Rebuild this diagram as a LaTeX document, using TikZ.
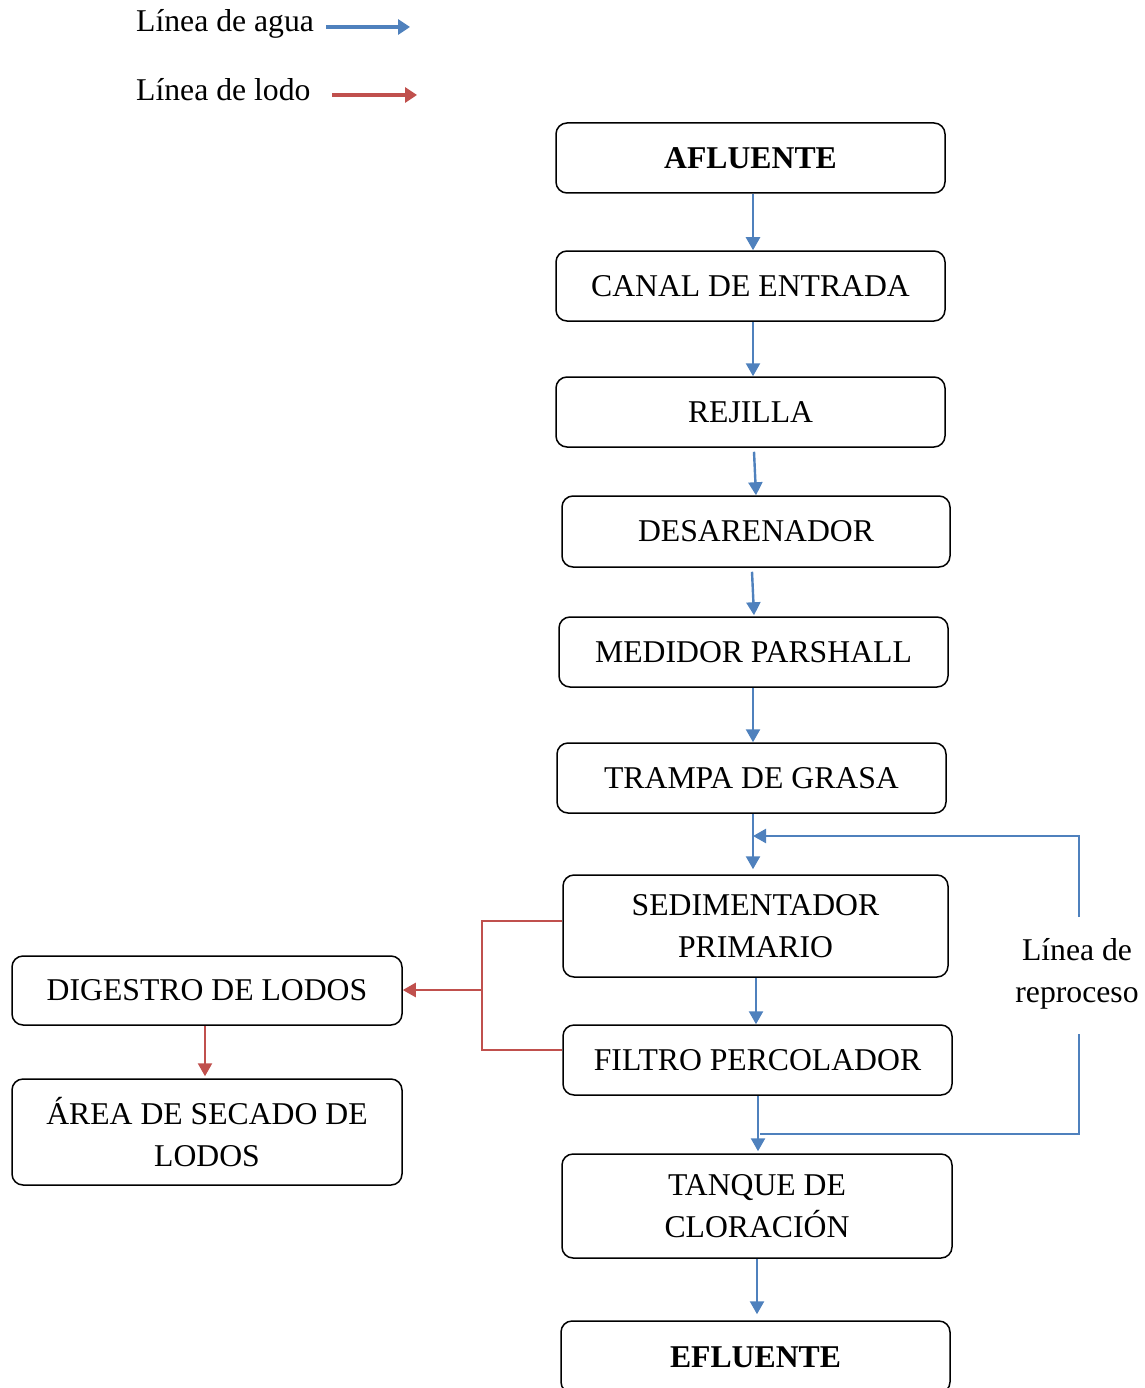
\documentclass[tikz,border=0pt]{standalone}
\usepackage{fontspec}
\setmainfont{Liberation Serif}
\usetikzlibrary{arrows.meta}
\definecolor{wblue}{HTML}{4F81BD}
\definecolor{mred}{HTML}{C0504D}
\begin{document}
\begin{tikzpicture}[x=1pt,y=-1pt,
  box/.style={draw=black,line width=1.5pt,rounded corners=11pt,minimum width=389pt,minimum height=70pt,inner sep=0pt,align=center,font=\fontsize{31.7}{42}\selectfont},
  water/.style={draw=wblue,line width=2.4pt,-{Triangle[length=13pt,width=14pt]}},
  wline/.style={draw=wblue,line width=2.4pt},
  mud/.style={draw=mred,line width=2.4pt,-{Triangle[length=13pt,width=14pt]}},
  mline/.style={draw=mred,line width=2.4pt},
  legw/.style={draw=wblue,line width=4.5pt,-{Triangle[length=12pt,width=15pt]}},
  legm/.style={draw=mred,line width=4.5pt,-{Triangle[length=12pt,width=15pt]}},
  txt/.style={font=\fontsize{31.7}{42}\selectfont,inner sep=0pt,align=center}]
\useasboundingbox (0,0) rectangle (1144,1388);
% legend
\node[txt,anchor=base west] (la) at (136,32) {Línea de agua};
\node[txt,anchor=base west] (ll) at (136,101) {Línea de lodo};
\coordinate (las) at (326,27);
\coordinate (lae) at (410,27);
\coordinate (lls) at (332,95);
\coordinate (lle) at (417,95);
\draw[legw] (las) -- (lae);
\draw[legm] (lls) -- (lle);
% main boxes
\node[box] (afl) at (750.5,158) {\bfseries AFLUENTE};
\node[box] (canal) at (750.5,286) {CANAL DE ENTRADA};
\node[box] (rej) at (750.5,412) {REJILLA};
\node[box,minimum width=388pt,minimum height=71pt] (des) at (756,531.5) {DESARENADOR};
\node[box] (med) at (753.5,652) {MEDIDOR PARSHALL};
\node[box] (tra) at (751.5,778) {TRAMPA DE GRASA};
\node[box,minimum width=385pt,minimum height=102pt] (sed) at (755.5,926) {SEDIMENTADOR\\PRIMARIO};
\node[box] (fil) at (757.5,1060) {FILTRO PERCOLADOR};
\node[box,minimum width=390pt,minimum height=104pt] (tan) at (757,1206) {TANQUE DE\\CLORACIÓN};
\node[box,minimum height=72pt] (efl) at (755.5,1357) {\bfseries EFLUENTE};
\node[box,minimum width=390pt,minimum height=69pt] (dig) at (207,990.5) {DIGESTRO DE LODOS};
\node[box,minimum width=390pt,minimum height=106pt] (area) at (207,1132) {ÁREA DE SECADO DE\\LODOS};
\node[txt] (rep) at (1077,974) {Línea de\\reproceso};
% water flow
\draw[water] ([xshift=2.5pt]afl.south) -- ([xshift=2.5pt]canal.north);
\draw[water] ([xshift=2.5pt]canal.south) -- ([xshift=2.5pt]rej.north);
\draw[water] ([xshift=3.5pt,yshift=-4pt]rej.south) -- (des.north);
\draw[water] ([xshift=-4pt,yshift=-4pt]des.south) -- ([xshift=0.5pt,yshift=1pt]med.north);
\draw[water] ([xshift=-0.5pt]med.south) -- ([xshift=1.5pt]tra.north);
\draw[water] ([xshift=1.5pt]tra.south) -- ([xshift=-2.5pt,yshift=5pt]sed.north);
\draw[water] ([xshift=0.5pt]sed.south) -- ([xshift=-1.5pt]fil.north);
\draw[water] ([xshift=0.5pt]fil.south) -- ([xshift=1pt,yshift=2pt]tan.north);
\draw[water] (tan.south) -- ([xshift=1.5pt,yshift=6pt]efl.north);
% reprocess line
\coordinate (r1) at (1079,917);
\coordinate (r2) at (1079,1034);
\coordinate (j1) at (753,836);
\coordinate (j2) at (760,1134);
\draw[water] (r1) |- (j1);
\draw[wline] (r2) |- (j2);
% sludge line
\coordinate (m1) at (482,990);
\draw[mline] ([yshift=5pt]sed.west) -| (m1) |- ([yshift=10pt]fil.west);
\draw[mud] (m1) -- (m1 -| dig.east);
\draw[mud] ([xshift=-2pt]dig.south) -- ([xshift=-2pt,yshift=2pt]area.north);
\end{tikzpicture}
\end{document}
